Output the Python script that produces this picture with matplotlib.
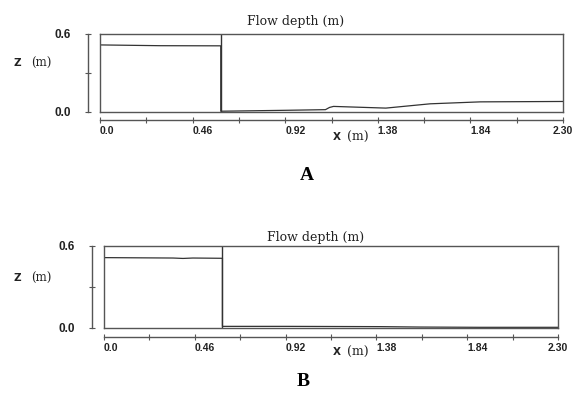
import numpy as np
import matplotlib.pyplot as plt

# Flow depth profiles
gate_x = 0.6
x_a = [0.0, 0.3, 0.6, 0.6, 0.6, 0.92, 1.12, 1.14, 1.16, 1.42, 1.64, 1.89, 2.3]
z_a = [0.516, 0.51, 0.509, 0.509, 0.006, 0.013, 0.018, 0.035, 0.043, 0.030, 0.063, 0.078, 0.081]

x_b = [0.0, 0.35, 0.4, 0.45, 0.6, 0.6, 0.6, 0.92, 1.4, 1.6, 1.9, 2.3]
z_b = [0.515, 0.512, 0.509, 0.512, 0.51, 0.51, 0.012, 0.012, 0.01, 0.007, 0.005, 0.005]

x_major = [0.0, 0.46, 0.92, 1.38, 1.84, 2.30]
x_labels = ['0.0', '0.46', '0.92', '1.38', '1.84', '2.30']
x_minor = [0.23, 0.69, 1.15, 1.61, 2.07]
y_ticks = [0.0, 0.3, 0.6]
y_labels = ['0.0', '', '0.6']

W, H = 577, 401
fig = plt.figure(figsize=(W / 100, H / 100), dpi=100)

serif = 'DejaVu Serif'
sans = 'Liberation Sans'


def fr(left, top, right, bottom):
    return [left / W, 1 - bottom / H, (right - left) / W, (bottom - top) / H]


def panel(rect, xs, zs, yoff, xoff):
    # box with the profile
    ax = fig.add_axes(rect)
    ax.plot(xs, zs, color='#333333', lw=0.9)
    ax.plot([gate_x, gate_x], [0, 0.6], color='#333333', lw=1.0)
    ax.set_xlim(0, 2.3)
    ax.set_ylim(0, 0.6)
    ax.set_xticks([])
    ax.set_yticks([])
    for s in ax.spines.values():
        s.set_color('#555555')
        s.set_linewidth(1.0)

    # detached axes lines
    ax2 = fig.add_axes(rect)
    ax2.patch.set_visible(False)
    ax2.set_xlim(0, 2.3)
    ax2.set_ylim(0, 0.6)
    ax2.spines['top'].set_visible(False)
    ax2.spines['right'].set_visible(False)
    ax2.spines['left'].set_position(('outward', yoff))
    ax2.spines['bottom'].set_position(('outward', xoff))
    ax2.spines['left'].set_bounds(0, 0.6)
    ax2.spines['bottom'].set_bounds(0, 2.3)
    for s in ('left', 'bottom'):
        ax2.spines[s].set_color('#555555')
        ax2.spines[s].set_linewidth(1.0)
    ax2.set_yticks(y_ticks)
    ax2.set_yticklabels(y_labels)
    ax2.set_xticks(x_major)
    ax2.set_xticklabels(x_labels)
    ax2.set_xticks(x_minor, minor=True)
    ax2.tick_params(axis='both', which='both', direction='inout', length=5,
                    width=0.8, color='#555555', labelsize=7.5, pad=2)
    ax2.tick_params(axis='y', pad=10, labelsize=8.5)
    for lab in ax2.get_xticklabels() + ax2.get_yticklabels():
        lab.set_fontweight('bold')
        lab.set_family(sans)
        lab.set_color('#222222')
    xl = ax2.get_xticklabels()
    for lab in xl[:-1]:
        lab.set_horizontalalignment('left')
    xl[-1].set_horizontalalignment('center')
    return ax


panel(fr(100, 34, 563, 112), x_a, z_a, 8.6, 5.8)
panel(fr(104, 246, 558, 328), x_b, z_b, 8.6, 6.5)

for (tx, ty, zy, xy, lx, ly, lab) in [
        (296, 22, 63, 137, 307, 175, 'A'),
        (316, 237, 278, 352, 303, 382, 'B')]:
    fig.text(tx / W, 1 - ty / H, 'Flow depth (m)', family=serif, fontsize=9,
             ha='center', va='center', color='#222222')
    fig.text(17 / W, 1 - zy / H, 'Z', family='DejaVu Sans', fontweight='bold',
             fontsize=7.5, ha='center', va='center', color='#222222')
    fig.text(41 / W, 1 - zy / H, '(m)', family=serif, fontsize=8.5,
             ha='center', va='center', color='#222222')
    fig.text(337 / W, 1 - xy / H, 'X', family='DejaVu Sans', fontweight='bold',
             fontsize=7.5, ha='center', va='center', color='#222222')
    fig.text(358 / W, 1 - xy / H, '(m)', family=serif, fontsize=9,
             ha='center', va='center', color='#222222')
    fig.text(lx / W, 1 - ly / H, lab, family='Liberation Serif', fontweight='bold',
             fontsize=14, ha='center', va='center')

fig.savefig('out.png', dpi=100)
